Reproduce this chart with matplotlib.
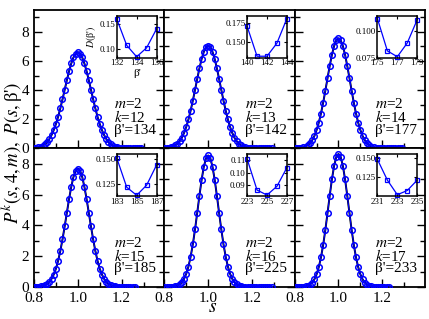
import numpy as np
import matplotlib
matplotlib.use('Agg')
import matplotlib.pyplot as plt
from matplotlib.ticker import MultipleLocator, FixedLocator

plt.rcParams['font.family'] = ['Liberation Serif', 'DejaVu Serif']
plt.rcParams['mathtext.fontset'] = 'stix'

# s grid of the histograms (step 0.01 from 0.80)
s_grid = np.round(np.arange(0.80, 1.305, 0.01), 2)

# P^k(s,4,m)
p_k12 = [0.03, 0.05, 0.08, 0.13, 0.20, 0.30, 0.45, 0.65, 0.92, 1.26,
         1.68, 2.17, 2.75, 3.37, 4.03, 4.69, 5.30, 5.83, 6.25, 6.51,
         6.60,
         6.51, 6.25, 5.83, 5.30, 4.69, 4.03, 3.37, 2.75, 2.17, 1.68,
         1.26, 0.92, 0.65, 0.45, 0.30, 0.20, 0.13, 0.08, 0.05, 0.03,
         0.02, 0.01, 0.01, 0.01, 0.0, 0.0, 0.0, 0.0, 0.0]
p_k13 = [0.01, 0.03, 0.05, 0.08, 0.13, 0.21, 0.33, 0.50, 0.74, 1.07,
         1.48, 1.99, 2.60, 3.28, 4.02, 4.77, 5.49, 6.13, 6.62, 6.94,
         7.05,
         6.94, 6.62, 6.13, 5.49, 4.77, 4.02, 3.28, 2.60, 1.99, 1.48,
         1.07, 0.74, 0.50, 0.33, 0.21, 0.13, 0.08, 0.05, 0.03, 0.01,
         0.01, 0.0, 0.0, 0.0, 0.0, 0.0, 0.0, 0.0, 0.0]
p_k14 = [0.01, 0.01, 0.02, 0.04, 0.08, 0.13, 0.23, 0.37, 0.57, 0.86,
         1.26, 1.77, 2.40, 3.14, 3.96, 4.83, 5.67, 6.43, 7.03, 7.42,
         7.55,
         7.42, 7.03, 6.43, 5.67, 4.83, 3.96, 3.14, 2.40, 1.77, 1.26,
         0.86, 0.57, 0.37, 0.23, 0.13, 0.08, 0.04, 0.02, 0.01, 0.01,
         0.0, 0.0, 0.0, 0.0, 0.0, 0.0, 0.0, 0.0, 0.0]
p_k15 = [0.0, 0.01, 0.02, 0.035, 0.07, 0.12, 0.20, 0.33, 0.53, 0.81,
         1.19, 1.70, 2.34, 3.09, 3.94, 4.83, 5.72, 6.51, 7.15, 7.56,
         7.70,
         7.56, 7.15, 6.51, 5.72, 4.83, 3.94, 3.09, 2.34, 1.70, 1.19,
         0.81, 0.53, 0.33, 0.20, 0.12, 0.07, 0.035, 0.02, 0.01, 0.0,
         0.0, 0.0, 0.0, 0.0, 0.0, 0.0]
p_k16 = [0.0, 0.0, 0.005, 0.012, 0.025, 0.05, 0.095, 0.18, 0.31, 0.53,
         0.86, 1.33, 1.97, 2.77, 3.74, 4.81, 5.92, 6.95, 7.80, 8.36,
         8.55,
         8.36, 7.80, 6.95, 5.92, 4.81, 3.74, 2.77, 1.97, 1.33, 0.86,
         0.53, 0.31, 0.18, 0.095, 0.05, 0.025, 0.012, 0.005, 0.0, 0.0,
         0.0, 0.0, 0.0, 0.0, 0.0, 0.0, 0.0, 0.0, 0.0]
p_k17 = [0.0, 0.0, 0.0, 0.01, 0.02, 0.044, 0.087, 0.16, 0.29, 0.50,
         0.82, 1.29, 1.92, 2.73, 3.71, 4.81, 5.94, 7.00, 7.87, 8.45,
         8.65,
         8.45, 7.87, 7.00, 5.94, 4.81, 3.71, 2.73, 1.92, 1.29, 0.82,
         0.50, 0.29, 0.16, 0.087, 0.044, 0.02, 0.01, 0.0, 0.0, 0.0,
         0.0, 0.0, 0.0]

k_vals = [12, 13, 14, 15, 16, 17]
beta_best = [134, 142, 177, 185, 225, 233]
m_val = 2

# D(beta') insets
beta_k12 = [132, 133, 134, 135, 136]
d_k12 = [0.160, 0.107, 0.084, 0.102, 0.140]
beta_k13 = [140, 141, 142, 143, 144]
d_k13 = [0.171, 0.132, 0.132, 0.149, 0.181]
beta_k14 = [175, 176, 177, 178, 179]
d_k14 = [0.112, 0.0815, 0.076, 0.089, 0.111]
beta_k15 = [183, 184, 185, 186, 187]
d_k15 = [0.151, 0.122, 0.114, 0.124, 0.144]
beta_k16 = [223, 224, 225, 226, 227]
d_k16 = [0.111, 0.086, 0.082, 0.089, 0.104]
beta_k17 = [231, 232, 233, 234, 235]
d_k17 = [0.148, 0.121, 0.102, 0.1075, 0.121]

curves = [p_k12, p_k13, p_k14, p_k15, p_k16, p_k17]
insets = [(beta_k12, d_k12, (0.082, 0.167), [0.10, 0.15], '%.2f'),
          (beta_k13, d_k13, (0.130, 0.185), [0.150, 0.175], '%.3f'),
          (beta_k14, d_k14, (0.075, 0.115), [0.075, 0.100], '%.3f'),
          (beta_k15, d_k15, (0.113, 0.155), [0.125, 0.150], '%.3f'),
          (beta_k16, d_k16, (0.081, 0.115), [0.09, 0.10, 0.11], '%.2f'),
          (beta_k17, d_k17, (0.100, 0.155), [0.125, 0.150], '%.3f')]
row_ylim = [9.5, 9.0]

fig, axes = plt.subplots(2, 3, figsize=(4.29, 3.19), dpi=100)
fig.subplots_adjust(left=0.0793, right=0.9907, top=0.9687, bottom=0.1003,
                    wspace=0, hspace=0)

for i, ax in enumerate(axes.flat):
    row, col = divmod(i, 3)
    y = curves[i]
    x = s_grid[:len(y)]
    ax.plot(x, y, color='black', lw=1.4, zorder=2)
    ax.plot(x, y, color='blue', lw=0.8, marker='o', ms=4, mfc='none',
            mec='blue', mew=1.1, zorder=3)
    ax.set_xlim(0.8, 1.395)
    ax.set_ylim(0, row_ylim[row])
    ax.xaxis.set_major_locator(FixedLocator([0.8, 1.0, 1.2]))
    ax.xaxis.set_minor_locator(FixedLocator([0.9, 1.1, 1.3]))
    ax.yaxis.set_major_locator(MultipleLocator(2))
    ax.yaxis.set_minor_locator(MultipleLocator(1))
    ax.tick_params(which='both', direction='in', left=True, right=True,
                   top=False, bottom=True, labelsize=11, width=1)
    ax.tick_params(which='major', length=6)
    ax.tick_params(which='minor', length=3.5)
    for sp in ax.spines.values():
        sp.set_linewidth(1.3)
    if row == 0:
        ax.tick_params(labelbottom=False)
    else:
        ax.set_xticklabels(['0.8', '1.0', '1.2'])
    if col != 0:
        ax.tick_params(labelleft=False)

    ax.text(0.615, 0.085,
            "$m$=%d\n$k$=%d\nβ'=%d" % (m_val, k_vals[i], beta_best[i]),
            transform=ax.transAxes, fontsize=11, ha='left', va='bottom',
            linespacing=0.85)

    bx, dy, ylim, yt, fmt = insets[i]
    ins = ax.inset_axes([0.635, 0.655, 0.305, 0.305])
    ins.plot(bx, dy, color='blue', lw=0.9, marker='s', ms=3.2, mfc='none',
             mec='blue', mew=0.9, clip_on=False)
    ins.set_xlim(bx[0], bx[-1])
    ins.set_ylim(*ylim)
    ins.set_xticks([bx[0], bx[2], bx[4]])
    ins.set_yticks(yt)
    ins.set_yticklabels([fmt % v for v in yt])
    ins.tick_params(direction='in', length=2, labelsize=6.5, pad=1,
                    right=True, top=True)
    for sp in ins.spines.values():
        sp.set_linewidth(1.1)
    if i == 0:
        ins.set_ylabel("$D($β'$)$", fontsize=7, labelpad=1)
        ins.set_xlabel("β'", fontsize=8, labelpad=1)

fig.text(0.028, 0.52, "$P^k(s,4,m),\\ P(s,$β'$)$", rotation=90,
         fontsize=13.5, ha='center', va='center')
fig.text(0.495, 0.037, "$s$", fontsize=14, ha='center', va='center')

fig.savefig('out.png', dpi=100)
